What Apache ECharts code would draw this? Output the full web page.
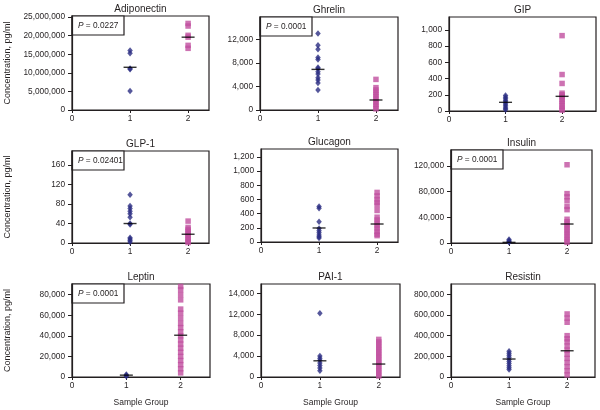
<!DOCTYPE html>
<html>
<head>
<meta charset="utf-8">
<script src="https://cdn.jsdelivr.net/npm/echarts@6/dist/echarts.min.js"></script>
<style>
  html, body { margin: 0; padding: 0; background: #fff; }
  #chart { width: 600px; height: 410px; }
</style>
</head>
<body>
<div id="chart"></div>
<script>
// panel data
const panelTitles = ['Adiponectin', 'Ghrelin', 'GIP', 'GLP-1', 'Glucagon', 'Insulin', 'Leptin', 'PAI-1', 'Resistin'];
const groupTicks = [0, 1, 2];
const pValues = ['0.0227', '0.0001', null, '0.02401', null, '0.0001', '0.0001', null, null];

const group1 = [
  [16.0e6, 15.3e6, 11.2e6, 11.0e6, 5.1e6],
  [13000, 11000, 10300, 8900, 8600, 7200, 7000, 6500, 6100, 5500, 5100, 4600, 3400],
  [190, 170, 150, 130, 110, 90, 70, 50, 30, 15],
  [99, 76, 71, 65, 60, 53, 40, 38, 11, 8, 5, 2],
  [500, 475, 285, 190, 160, 130, 100, 75, 55],
  [5500, 3500, 2000, 1000],
  [2500, 1500, 800],
  [12200, 4000, 3600, 3200, 2700, 2200, 1700, 1200],
  [250000, 230000, 210000, 190000, 170000, 150000, 130000, 110000, 90000, 72000]
];
const group2 = [
  [23.3e6, 22.6e6, 20.1e6, 19.6e6, 17.4e6, 16.6e6],
  [5200, 3800, 3400, 3000, 2600, 2200, 1800, 1400, 1000, 600, 200],
  [930, 450, 340, 220, 200, 180, 150, 120, 90, 60, 30, 10],
  [45, 32, 28, 24, 20, 16, 12, 8, 4, 1],
  [700, 650, 600, 560, 520, 445, 350, 310, 270, 230, 190, 150, 110, 90],
  [122000, 77000, 72000, 66000, 57000, 52000, 37000, 33000, 29000, 25000, 21000, 17000, 13000, 9000, 5000, 1000],
  [88000, 85000, 80000, 75000, 66000, 62000, 57000, 52000, 48000, 44000, 40000, 36000, 32000, 28000, 24000, 20000, 16000, 12000, 8000, 4000],
  [7200, 6700, 6200, 5700, 5200, 4700, 4200, 3700, 3200, 2700, 2200, 1700, 1200, 700, 200],
  [610000, 570000, 530000, 400000, 370000, 340000, 300000, 260000, 220000, 180000, 140000, 100000, 60000, 20000]
];
const median1 = [11.5e6, 6900, 107, 40, 198, 1000, 1800, 3100, 174000];
const median2 = [19.6e6, 1700, 181, 18, 254, 29600, 40600, 2480, 254000];

const yMax = [25.3e6, 15800, 1160, 189, 1313, 145000, 90400, 17800, 900000];
const yTickValues = [
  [0, 5e6, 10e6, 15e6, 20e6, 25e6],
  [0, 4000, 8000, 12000],
  [0, 200, 400, 600, 800, 1000],
  [0, 40, 80, 120, 160],
  [0, 200, 400, 600, 800, 1000, 1200],
  [0, 40000, 80000, 120000],
  [0, 20000, 40000, 60000, 80000],
  [0, 4000, 8000, 12000, 16000],
  [0, 200000, 400000, 600000, 800000]
];
const yTickLabels = [
  ['0', '5,000,000', '10,000,000', '15,000,000', '20,000,000', '25,000,000'],
  ['0', '4,000', '8,000', '12,000'],
  ['0', '200', '400', '600', '800', '1,000'],
  ['0', '40', '80', '120', '160'],
  ['0', '200', '400', '600', '800', '1,000', '1,200'],
  ['0', '40,000', '80,000', '120,000'],
  ['0', '20,000', '40,000', '60,000', '80,000'],
  ['0', '4,000', '8,000', '12,000', '14,000'],
  ['0', '200,000', '400,000', '600,000', '800,000']
];

// plot boxes in pixels
const layout = [
  { l: 72, t: 16, r: 209, b: 110, xMax: 2.36 },
  { l: 260, t: 17, r: 398, b: 110, xMax: 2.38 },
  { l: 449, t: 17, r: 596, b: 111, xMax: 2.6 },
  { l: 72, t: 151, r: 209, b: 243, xMax: 2.36 },
  { l: 261, t: 149, r: 398, b: 242, xMax: 2.36 },
  { l: 451, t: 150, r: 592, b: 243, xMax: 2.43 },
  { l: 72, t: 284, r: 210, b: 377, xMax: 2.54 },
  { l: 261, t: 284, r: 400, b: 377, xMax: 2.36 },
  { l: 451, t: 284, r: 595, b: 377, xMax: 2.48 }
];

const FONT = '"Liberation Sans", Arial, sans-serif';
const INK = '#231f20';
const NAVY = '#2b2d82';
const MAGENTA = '#c04f9f';

let grid = [], xAxis = [], yAxis = [], series = [], graphic = [];

layout.forEach((b, i) => {
  grid.push({
    left: b.l, top: b.t, width: b.r - b.l, height: b.b - b.t,
    show: true, borderColor: INK, borderWidth: 1.2, backgroundColor: 'transparent'
  });
  xAxis.push({
    type: 'value', gridIndex: i, min: 0, max: b.xMax,
    splitLine: { show: false },
    axisLine: { lineStyle: { color: INK, width: 1.2 } },
    axisTick: { customValues: groupTicks, length: 3, lineStyle: { color: INK } },
    axisLabel: { customValues: groupTicks, fontSize: 8.3, color: INK, fontFamily: FONT, margin: 5 },
    name: i >= 6 ? 'Sample Group' : '',
    nameLocation: 'middle', nameGap: 21,
    nameTextStyle: { fontSize: 8.5, color: INK, fontFamily: FONT }
  });
  const tv = yTickValues[i], tl = yTickLabels[i];
  yAxis.push({
    type: 'value', gridIndex: i, min: 0, max: yMax[i],
    splitLine: { show: false },
    axisLine: { show: true, lineStyle: { color: INK, width: 1.2 } },
    axisTick: { customValues: tv, length: 4, lineStyle: { color: INK } },
    axisLabel: {
      customValues: tv, fontSize: 8.3, color: INK, fontFamily: FONT, margin: 7,
      formatter: v => { const k = tv.indexOf(v); return k >= 0 ? tl[k] : ''; }
    },
    name: i % 3 === 0 ? 'Concentration, pg/ml' : '',
    nameLocation: 'middle', nameGap: 60,
    nameTextStyle: { fontSize: 9, color: INK, fontFamily: FONT }
  });
  series.push({
    type: 'scatter', xAxisIndex: i, yAxisIndex: i,
    symbol: 'diamond', symbolSize: [5.5, 6.5],
    itemStyle: { color: NAVY },
    data: group1[i].map(v => [1, v])
  });
  series.push({
    type: 'scatter', xAxisIndex: i, yAxisIndex: i,
    symbol: 'rect', symbolSize: 5.5,
    itemStyle: { color: MAGENTA },
    data: group2[i].map(v => [2, v])
  });
  series.push({
    type: 'scatter', xAxisIndex: i, yAxisIndex: i, z: 5,
    symbol: 'rect', symbolSize: [13, 1.4],
    itemStyle: { color: '#000' },
    data: [[1, median1[i]], [2, median2[i]]]
  });
  // panel title
  graphic.push({
    type: 'text', x: (b.l + b.r) / 2, y: b.t - 7,
    style: { text: panelTitles[i], fill: INK, fontSize: 10, fontFamily: FONT, align: 'center', verticalAlign: 'middle' }
  });
  // P value box
  if (pValues[i]) {
    graphic.push({
      type: 'group', x: b.l, y: b.t, z: 10,
      children: [
        { type: 'rect', shape: { x: 0, y: 0, width: 52, height: 19 },
          style: { fill: '#fff', stroke: INK, lineWidth: 1.2 } },
        { type: 'text', x: 6, y: 9.5,
          style: {
            text: '{i|P} = ' + pValues[i], fill: INK, fontSize: 8.3, fontFamily: FONT, verticalAlign: 'middle',
            rich: { i: { fontStyle: 'italic', fontSize: 8.3, fontFamily: FONT, fill: INK } }
          } }
      ]
    });
  }
});

const myChart = echarts.init(document.getElementById('chart'));
myChart.setOption({
  animation: false,
  backgroundColor: '#fff',
  grid, xAxis, yAxis, series, graphic
});
</script>
</body>
</html>
